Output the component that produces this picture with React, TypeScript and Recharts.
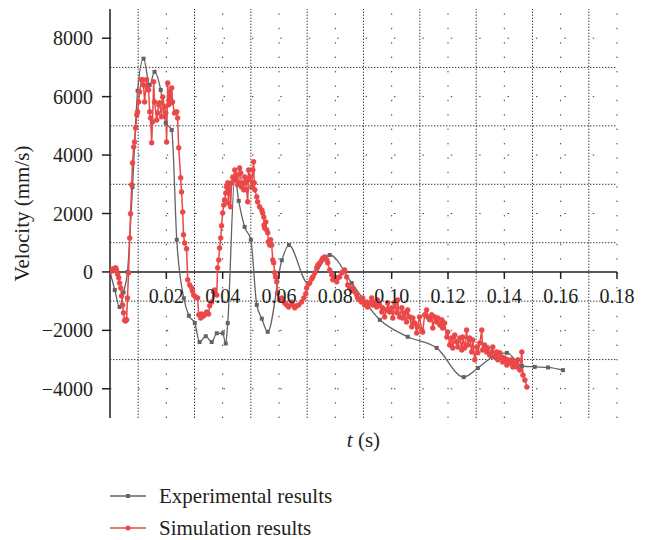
import React from "react";
import { ComposedChart, Line, XAxis, YAxis, ReferenceLine, Legend, Label } from "recharts";

// Experimental results (grey, square markers)
const expTime = [
  0, 0.0017, 0.0034, 0.0048, 0.0062, 0.008, 0.0098, 0.0119, 0.0141, 0.0158,
  0.018, 0.0198, 0.0219, 0.0237, 0.0262, 0.028, 0.0301, 0.0318, 0.034, 0.0361,
  0.0379, 0.04, 0.0411, 0.0418, 0.0443, 0.0457, 0.0478, 0.05, 0.0521, 0.0539,
  0.056, 0.061, 0.0635, 0.0702, 0.078, 0.0858, 0.0958, 0.1057, 0.116, 0.1256,
  0.1306, 0.136, 0.1409, 0.1462, 0.1508, 0.1555, 0.1608,
];
const expVelocity = [
  0, -620, -1200, -700, 0, 2910, 6200, 7300, 6400, 6850,
  6230, 5100, 4860, 1100, -900, -1500, -1750, -2400, -2200, -2400,
  -2100, -2100, -2450, -1750, 3250, 2430, 1540, 1100, -1130, -1600,
  -2050, 400, 920, -380, 580, -380, -1640, -2220, -2600, -3600,
  -3290, -2900, -2770, -3220, -3250, -3270, -3360,
];

// Simulation results (red, round markers)
const simTime = [
  0, 0.0002, 0.0006, 0.0009, 0.0013, 0.0016, 0.002, 0.0023, 0.0027, 0.0031,
  0.0034, 0.0038, 0.0041, 0.0045, 0.0048, 0.0052, 0.0055, 0.0059, 0.0062, 0.0066,
  0.007, 0.0073, 0.0077, 0.008, 0.0084, 0.0087, 0.0091, 0.0095, 0.0098, 0.0102,
  0.0105, 0.0112, 0.0116, 0.0119, 0.0123, 0.013, 0.0134, 0.0137, 0.0141, 0.0144,
  0.0148, 0.0151, 0.0155, 0.0158, 0.0166, 0.0169, 0.0173, 0.0176, 0.0183, 0.0187,
  0.0194, 0.0198, 0.0201, 0.0205, 0.0208, 0.0212, 0.0215, 0.0219, 0.0222, 0.0229,
  0.0237, 0.024, 0.0244, 0.0251, 0.0254, 0.0258, 0.0261, 0.0265, 0.0272, 0.0276,
  0.0283, 0.029, 0.0293, 0.0297, 0.0304, 0.0311, 0.0315, 0.0322, 0.0325, 0.0332,
  0.034, 0.0343, 0.035, 0.0354, 0.0361, 0.0368, 0.0371, 0.0379, 0.0382, 0.0386,
  0.0389, 0.0393, 0.0396, 0.04, 0.0404, 0.0407, 0.0411, 0.0414, 0.0418, 0.042,
  0.0421, 0.0425, 0.0428, 0.0432, 0.0436, 0.0439, 0.0443, 0.0446, 0.045, 0.0453,
  0.0457, 0.046, 0.0464, 0.0467, 0.0471, 0.0475, 0.0478, 0.0482, 0.0485, 0.0489,
  0.0491, 0.0492, 0.0496, 0.0503, 0.0507, 0.051, 0.0512, 0.0514, 0.0521, 0.0524,
  0.0531, 0.0539, 0.0542, 0.0546, 0.0547, 0.0549, 0.0553, 0.0556, 0.056, 0.0562,
  0.0567, 0.057, 0.0574, 0.0578, 0.0581, 0.0585, 0.0588, 0.0592, 0.0595, 0.0602,
  0.061, 0.0613, 0.062, 0.0627, 0.0634, 0.0645, 0.0648, 0.0656, 0.0663, 0.067,
  0.068, 0.0688, 0.0695, 0.0698, 0.0705, 0.0709, 0.0716, 0.072, 0.0727, 0.0734,
  0.0738, 0.0745, 0.0752, 0.0756, 0.0763, 0.077, 0.0773, 0.078, 0.0787, 0.0791,
  0.0798, 0.0805, 0.0808, 0.0815, 0.0823, 0.0826, 0.0833, 0.084, 0.0844, 0.0851,
  0.0858, 0.0862, 0.0869, 0.0876, 0.0879, 0.0886, 0.0893, 0.0897, 0.0904, 0.0911,
  0.0915, 0.0922, 0.0929, 0.0933, 0.094, 0.0947, 0.095, 0.0957, 0.0965, 0.0968,
  0.0975, 0.0982, 0.0986, 0.0993, 0.1, 0.1004, 0.1011, 0.1018, 0.1021, 0.1028,
  0.1036, 0.1039, 0.1046, 0.1053, 0.1057, 0.1064, 0.1071, 0.1075, 0.1082, 0.1089,
  0.1092, 0.1099, 0.1107, 0.111, 0.1117, 0.1124, 0.1128, 0.1135, 0.1142, 0.1146,
  0.1153, 0.116, 0.1164, 0.1171, 0.1178, 0.1181, 0.1188, 0.1196, 0.1199, 0.1206,
  0.1213, 0.1217, 0.1224, 0.1231, 0.1235, 0.1242, 0.1249, 0.1252, 0.1259, 0.1266,
  0.127, 0.1277, 0.1284, 0.1288, 0.1295, 0.1302, 0.1306, 0.1313, 0.132, 0.1323,
  0.133, 0.1337, 0.1341, 0.1348, 0.1355, 0.1359, 0.1366, 0.1373, 0.1377, 0.1384,
  0.1391, 0.1394, 0.1401, 0.1409, 0.1412, 0.1419, 0.1426, 0.143, 0.1437, 0.1444,
  0.1448, 0.1455, 0.1462, 0.1466, 0.1473, 0.148,
];
const simVelocity = [
  0, 70, 30, 100, 70, 70, 140, 70, -70, -200,
  -380, -550, -820, -1130, -1400, -1650, -1680, -1640, -890, -30,
  1160, 1990, 2980, 3730, 4280, 4450, 4930, 5380, 5480, 5820,
  6160, 6580, 6580, 6400, 5820, 6580, 6300, 6230, 5480, 5270,
  4420, 5140, 6510, 5820, 5200, 5440, 5720, 5790, 5310, 5990,
  5650, 5440, 4450, 6470, 5720, 6160, 5790, 6300, 5820, 5440,
  5480, 5270, 4250, 3220, 2740, 2050, 1270, 990, 790, -270,
  -450, -550, -650, -790, -860, -890, -1470, -1580, -1440, -1510,
  -1440, -1370, -1440, -1160, -1030, -680, -620, -790, 140, 410,
  820, 1160, 1580, 2020, 2290, 2470, 2700, 2910, 3050, 2360,
  2810, 2980, 2230, 3050, 3250, 3220, 3490, 3150, 3320, 2980,
  3050, 3560, 3390, 2910, 3050, 2810, 3250, 3050, 2810, 2400,
  3150, 3490, 3250, 2910, 3490, 3770, 3050, 2810, 2570, 2400,
  2230, 2120, 2020, 1880, 1610, 1500, 1710, 1440, 1340, 1030,
  920, 1100, 920, 410, 310, -30, -170, -340, -720, -960,
  -890, -960, -1060, -1130, -1200, -1030, -1130, -1230, -1160, -1130,
  -1030, -890, -750, -550, -410, -380, -240, -170, -30, 140,
  240, 310, 410, 480, 510, 410, 310, 70, -100, -270,
  -200, -340, -200, -170, -30, 0, 70, -170, -450, -550,
  -620, -550, -680, -790, -890, -960, -1030, -890, -1130, -1030,
  -1200, -1060, -890, -1130, -1030, -1200, -960, -1130, -1370, -1230,
  -1540, -1300, -1060, -1370, -1230, -1580, -1060, -1400, -960, -1540,
  -1230, -1580, -1400, -1710, -1300, -1540, -1880, -1580, -1750, -2090,
  -1880, -1540, -1990, -2060, -1470, -1300, -1540, -1640, -1470, -1920,
  -1540, -1710, -1580, -1820, -1640, -1920, -1750, -2230, -2060, -2500,
  -2260, -2600, -2160, -2400, -2570, -2260, -2670, -2230, -2600, -1990,
  -2500, -2260, -2740, -2330, -3010, -2570, -2770, -2430, -1990, -2670,
  -2500, -2740, -2600, -2840, -2740, -2570, -2910, -2740, -3010, -2770,
  -2910, -3080, -2950, -3190, -3010, -3120, -3010, -3250, -3120, -3250,
  -3010, -3360, -2740, -3530, -3700, -3940,
];

const xTicks = [0.02, 0.04, 0.06, 0.08, 0.1, 0.12, 0.14, 0.16, 0.18];
const yTicks = [-4000, -2000, 0, 2000, 4000, 6000, 8000];
// dense dotted grid on the odd steps, sparse dots on the even ones
const minorX = [0.01, 0.03, 0.05, 0.07, 0.09, 0.11, 0.13, 0.15, 0.17];
const minorY = [-3000, -1000, 1000, 3000, 5000, 7000];
const majorY = [-4000, -2000, 2000, 4000, 6000, 8000];

const expData = expTime.map((t, i) => ({ t, v: expVelocity[i] }));
const simData = simTime.map((t, i) => ({ t, v: simVelocity[i] }));

const FONT = "'Liberation Serif', 'Times New Roman', serif";
const INK = "#231f20";
const GREY = "#636366";
const RED = "#ea4848";
const GRID = "#3a3a3a";

const CHART_W = 639;
const CHART_H = 532;
const MARGIN = { top: 1, right: 30, bottom: 0, left: 0 };
const Y_AXIS_W = 102;
const X_AXIS_H = 40;
const LEGEND_H = 82;
const Y_DOMAIN: [number, number] = [-5000, 9000];
const PLOT_H = CHART_H - MARGIN.top - MARGIN.bottom - X_AXIS_H - LEGEND_H;
// pixel row of v = 0, where the x axis crosses
const ZERO_Y = MARGIN.top + (PLOT_H * Y_DOMAIN[1]) / (Y_DOMAIN[1] - Y_DOMAIN[0]);

const XTick = ({ x, payload }: any) => (
  <g>
    <line x1={x} x2={x} y1={ZERO_Y} y2={ZERO_Y + 7} stroke={INK} strokeWidth={1.5} />
    <text x={x} y={ZERO_Y + 31} textAnchor="middle" fill={INK} fontSize={20} fontFamily={FONT}>
      {Number(payload.value).toFixed(2)}
    </text>
  </g>
);

const TLabel = ({ viewBox }: any) => {
  if (!viewBox) return null;
  return (
    <text
      x={viewBox.x + viewBox.width / 2}
      y={viewBox.y + 29}
      textAnchor="middle"
      fill={INK}
      fontSize={21}
      fontFamily={FONT}
    >
      <tspan fontStyle="italic">t</tspan>
      {" (s)"}
    </text>
  );
};

const SquareDot = ({ cx, cy }: any) => {
  if (cx == null || cy == null) return null;
  return <rect x={cx - 2} y={cy - 2} width={4} height={4} fill={GREY} />;
};

const legendItems = [
  { name: "Experimental results", color: GREY, marker: "square" },
  { name: "Simulation results", color: RED, marker: "circle" },
];

const LegendContent = () => (
  <div
    style={{
      height: LEGEND_H,
      paddingTop: 22,
      boxSizing: "border-box",
      fontFamily: FONT,
      fontSize: 21,
      color: INK,
    }}
  >
    {legendItems.map((item) => (
      <div key={item.name} style={{ display: "flex", alignItems: "center", height: 32 }}>
        <svg width={36} height={10} style={{ marginLeft: 102, marginRight: 13 }}>
          <line x1={0} y1={5} x2={36} y2={5} stroke={item.color} strokeWidth={1.5} />
          {item.marker === "square" ? (
            <rect x={16} y={3} width={4} height={4} fill={item.color} />
          ) : (
            <circle cx={18} cy={5} r={2.5} fill={item.color} />
          )}
        </svg>
        <span>{item.name}</span>
      </div>
    ))}
  </div>
);

export default function App() {
  return (
    <div style={{ width: CHART_W, height: CHART_H }}>
      <ComposedChart width={CHART_W} height={CHART_H} margin={MARGIN}>
        {minorX.map((x) => (
          <ReferenceLine key={`mx${x}`} x={x} stroke={GRID} strokeWidth={1} strokeDasharray="1.4 1.6" />
        ))}
        {xTicks.map((x) => (
          <ReferenceLine key={`Mx${x}`} x={x} stroke={GRID} strokeWidth={1} strokeDasharray="1.4 13" />
        ))}
        {minorY.map((y) => (
          <ReferenceLine key={`my${y}`} y={y} stroke={GRID} strokeWidth={1} strokeDasharray="1.4 1.6" />
        ))}
        {majorY.map((y) => (
          <ReferenceLine key={`My${y}`} y={y} stroke={GRID} strokeWidth={1} strokeDasharray="1.4 27" />
        ))}
        <ReferenceLine y={0} stroke={INK} strokeWidth={1.5} />
        <XAxis
          type="number"
          dataKey="t"
          domain={[0, 0.18]}
          ticks={xTicks}
          interval={0}
          allowDataOverflow
          axisLine={false}
          tickLine={false}
          height={X_AXIS_H}
          tick={<XTick />}
        >
          <Label content={<TLabel />} />
        </XAxis>
        <YAxis
          type="number"
          domain={Y_DOMAIN}
          ticks={yTicks}
          interval={0}
          allowDataOverflow
          width={Y_AXIS_W}
          tickSize={8}
          tickMargin={9}
          axisLine={{ stroke: INK, strokeWidth: 1.5 }}
          tickLine={{ stroke: INK, strokeWidth: 1.5 }}
          tick={{ fill: INK, fontSize: 20, fontFamily: FONT }}
          tickFormatter={(v: number) => (v < 0 ? `\u2212${-v}` : `${v}`)}
        >
          <Label
            value="Velocity (mm/s)"
            angle={-90}
            position="insideLeft"
            offset={14}
            style={{ textAnchor: "middle", fill: INK, fontSize: 21, fontFamily: FONT }}
          />
        </YAxis>
        <Legend
          verticalAlign="bottom"
          align="left"
          height={LEGEND_H}
          wrapperStyle={{ left: 0, width: CHART_W }}
          content={<LegendContent />}
        />
        <Line
          data={expData}
          dataKey="v"
          name="Experimental results"
          type="monotone"
          stroke={GREY}
          strokeWidth={1.3}
          dot={<SquareDot />}
          activeDot={false}
          isAnimationActive={false}
        />
        <Line
          data={simData}
          dataKey="v"
          name="Simulation results"
          type="linear"
          stroke={RED}
          strokeWidth={1.5}
          dot={{ r: 2.5, fill: RED, stroke: RED, strokeWidth: 0.5 }}
          activeDot={false}
          isAnimationActive={false}
        />
      </ComposedChart>
    </div>
  );
}
